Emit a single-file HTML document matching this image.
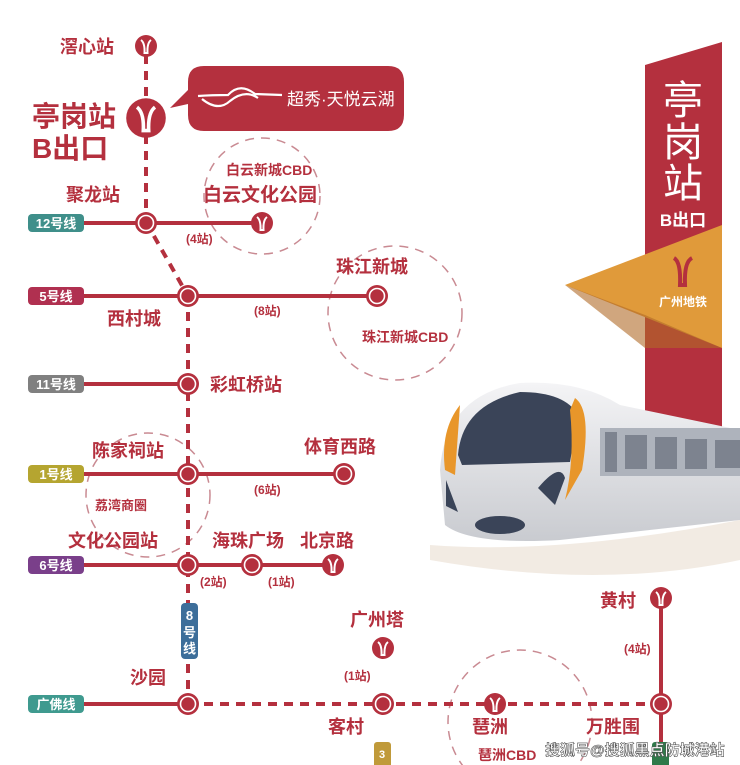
<!DOCTYPE html>
<html><head><meta charset="utf-8"><style>
html,body{margin:0;padding:0;background:#fff;}
svg{display:block;font-family:"Liberation Sans","Noto Sans CJK SC",sans-serif;}
.t{fill:#b4303e;font-weight:bold;}
</style></head><body>
<svg width="740" height="765" viewBox="0 0 740 765" xmlns="http://www.w3.org/2000/svg">
<defs>
<g id="st"><circle r="11" fill="#b4303e"/><circle r="7.5" fill="#b4303e" stroke="#fff" stroke-width="1.6"/></g>
<g id="ic"><circle r="11" fill="#b4303e"/><path d="M-5,-6 Q-1,-3 -1.5,7 L1.5,7 Q1,-3 5,-6" fill="none" stroke="#fff" stroke-width="2"/></g>
<linearGradient id="tb" x1="0" y1="0" x2="0" y2="1"><stop offset="0" stop-color="#f4f4f6"/><stop offset="1" stop-color="#c9cbd0"/></linearGradient>
</defs>

<g fill="none" stroke="#c98a92" stroke-width="1.5" stroke-dasharray="9 7">
<circle cx="262" cy="196" r="58"/>
<circle cx="395" cy="313" r="67"/>
<circle cx="148" cy="495" r="62"/>
<circle cx="520" cy="722" r="72"/>
</g>

<g stroke="#b4303e" stroke-width="4" fill="none" stroke-dasharray="9 7">
<line x1="146" y1="55" x2="146" y2="222"/>
<line x1="146" y1="222" x2="188" y2="296"/>
<line x1="188" y1="296" x2="188" y2="704"/>
<line x1="188" y1="704" x2="661" y2="704"/>
</g>
<g stroke="#b4303e" stroke-width="4">
<line x1="84" y1="223" x2="262" y2="223"/>
<line x1="84" y1="296" x2="377" y2="296"/>
<line x1="84" y1="384" x2="188" y2="384"/>
<line x1="84" y1="474" x2="344" y2="474"/>
<line x1="84" y1="565" x2="333" y2="565"/>
<line x1="84" y1="704" x2="188" y2="704"/>
<line x1="661" y1="598" x2="661" y2="765"/>
</g>

<g font-size="13" font-weight="bold" fill="#fff">
<rect x="28" y="214" width="56" height="18" rx="4" fill="#3f8f8a"/><text x="56" y="228" text-anchor="middle">12号线</text>
<rect x="28" y="287" width="56" height="18" rx="4" fill="#b03050"/><text x="56" y="301" text-anchor="middle">5号线</text>
<rect x="28" y="375" width="56" height="18" rx="4" fill="#808080"/><text x="56" y="389" text-anchor="middle">11号线</text>
<rect x="28" y="465" width="56" height="18" rx="4" fill="#b5a530"/><text x="56" y="479" text-anchor="middle">1号线</text>
<rect x="28" y="556" width="56" height="18" rx="4" fill="#7a3f8a"/><text x="56" y="570" text-anchor="middle">6号线</text>
<rect x="28" y="695" width="56" height="18" rx="4" fill="#3f9a8f"/><text x="56" y="709" text-anchor="middle">广佛线</text>
<rect x="181" y="603" width="17" height="56" rx="4" fill="#3d6e9a"/>
<text x="189.5" y="620" text-anchor="middle">8</text><text x="189.5" y="637" text-anchor="middle">号</text><text x="189.5" y="653" text-anchor="middle">线</text>
<rect x="374" y="742" width="17" height="30" rx="3" fill="#c09a3a"/><text x="382" y="758" text-anchor="middle" font-size="11">3</text>
<rect x="652" y="742" width="17" height="30" rx="3" fill="#2f7a4a"/>
</g>

<use href="#ic" x="146" y="46"/>
<g transform="translate(146,118) scale(1.8)"><use href="#ic"/></g>
<use href="#st" x="146" y="223"/><use href="#ic" x="262" y="223"/>
<use href="#st" x="188" y="296"/><use href="#st" x="377" y="296"/>
<use href="#st" x="188" y="384"/>
<use href="#st" x="188" y="474"/><use href="#st" x="344" y="474"/>
<use href="#st" x="188" y="565"/><use href="#st" x="252" y="565"/><use href="#ic" x="333" y="565"/>
<use href="#st" x="188" y="704"/><use href="#st" x="383" y="704"/><use href="#ic" x="495" y="704"/><use href="#st" x="661" y="704"/>
<use href="#ic" x="383" y="648"/><use href="#ic" x="661" y="598"/>

<path d="M204,66 H388 Q404,66 404,82 V115 Q404,131 388,131 H204 Q188,131 188,115 V104 L170,108 L188,90 V82 Q188,66 204,66 Z" fill="#b4303e"/>
<path d="M198,96 Q212,95 228,95 Q240,82 255,94 L282,95 M202,99 Q218,112 230,101 Q245,89 258,98" stroke="#fff" stroke-width="2.2" fill="none"/>
<text x="287" y="105" font-size="17" fill="#fff">超秀·天悦云湖</text>

<text class="t" x="60" y="53" font-size="18">滘心站</text>
<text class="t" x="32" y="126" font-size="28">亭岗站</text>
<text class="t" x="32" y="158" font-size="28">B出口</text>
<text class="t" x="66" y="201" font-size="18">聚龙站</text>
<text class="t" x="226" y="175" font-size="14">白云新城CBD</text>
<text class="t" x="203" y="201" font-size="19">白云文化公园</text>
<text class="t" x="186" y="243" font-size="12">(4站)</text>
<text class="t" x="336" y="273" font-size="18">珠江新城</text>
<text class="t" x="107" y="325" font-size="18">西村城</text>
<text class="t" x="254" y="315" font-size="12">(8站)</text>
<text class="t" x="362" y="342" font-size="14">珠江新城CBD</text>
<text class="t" x="210" y="391" font-size="18">彩虹桥站</text>
<text class="t" x="92" y="457" font-size="18">陈家祠站</text>
<text class="t" x="304" y="453" font-size="18">体育西路</text>
<text class="t" x="254" y="494" font-size="12">(6站)</text>
<text class="t" x="95" y="510" font-size="13">荔湾商圈</text>
<text class="t" x="68" y="547" font-size="18">文化公园站</text>
<text class="t" x="212" y="547" font-size="18">海珠广场</text>
<text class="t" x="300" y="547" font-size="18">北京路</text>
<text class="t" x="200" y="586" font-size="12">(2站)</text>
<text class="t" x="268" y="586" font-size="12">(1站)</text>
<text class="t" x="600" y="607" font-size="18">黄村</text>
<text class="t" x="350" y="626" font-size="18">广州塔</text>
<text class="t" x="624" y="653" font-size="12">(4站)</text>
<text class="t" x="344" y="680" font-size="12">(1站)</text>
<text class="t" x="130" y="684" font-size="18">沙园</text>
<text class="t" x="328" y="733" font-size="18">客村</text>
<text class="t" x="472" y="733" font-size="18">琶洲</text>
<text class="t" x="586" y="733" font-size="18">万胜围</text>
<text class="t" x="478" y="760" font-size="14">琶洲CBD</text>

<path d="M645,65 L722,42 V440 H645 Z" fill="#b4303e"/>
<polygon points="565,285 722,225 722,348" fill="#e09a3a"/>
<polygon points="565,285 645,315 722,348 645,348" fill="#b06a28" opacity="0.6"/>
<text x="683" y="114" font-size="40" fill="#fff" text-anchor="middle">亭</text>
<text x="683" y="156" font-size="40" fill="#fff" text-anchor="middle">岗</text>
<text x="683" y="197" font-size="40" fill="#fff" text-anchor="middle">站</text>
<text x="683" y="226" font-size="17" fill="#fff" text-anchor="middle" font-weight="bold">B出口</text>
<path d="M674,258 Q681,262 680,285 L685,285 Q684,262 692,258" fill="none" stroke="#b4303e" stroke-width="4"/>
<text x="683" y="306" font-size="12" fill="#fff" text-anchor="middle" font-weight="bold">广州地铁</text>

<!-- train -->
<path d="M440,470 Q445,395 520,383 Q580,380 620,405 L740,430 V520 L560,540 Q470,545 445,525 Z" fill="url(#tb)"/>
<path d="M458,455 Q462,405 520,392 Q565,392 578,415 L570,462 L462,465 Z" fill="#3a4458"/>
<path d="M445,470 Q440,430 460,405 L455,475 Z" fill="#e8962a"/>
<path d="M575,398 Q592,410 582,470 L565,500 Q575,460 570,410 Z" fill="#e8962a"/>
<path d="M538,488 Q560,462 565,478 L555,505 Z" fill="#3a4458"/>
<path d="M446,480 L458,512 L446,506 Z" fill="#3a4458"/>
<rect x="600" y="428" width="140" height="48" fill="#aeb3bc"/>
<g fill="#7d838f"><rect x="605" y="432" width="12" height="40"/><rect x="625" y="435" width="22" height="34"/><rect x="655" y="437" width="22" height="32"/><rect x="685" y="439" width="22" height="30"/><rect x="715" y="440" width="25" height="28"/></g>
<ellipse cx="500" cy="525" rx="25" ry="9" fill="#3a4458"/>
<path d="M430,545 Q560,555 740,520 V560 Q600,590 430,560 Z" fill="#efe6dc" opacity="0.8"/>

<text x="545" y="755" font-size="15" fill="#fff" stroke="#555" stroke-width="0.6" font-weight="bold">搜狐号@搜狐黑点防城港站</text>
</svg>
</body></html>
